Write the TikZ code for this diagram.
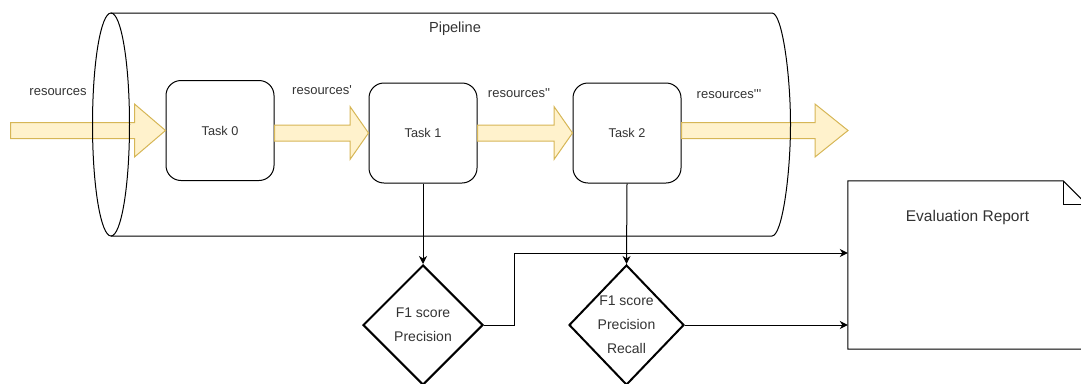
\documentclass[tikz,border=0pt]{standalone}
\usepackage{fontspec}
\setmainfont{Liberation Sans}
\usetikzlibrary{shapes.geometric,arrows.meta,calc}
\definecolor{flowfill}{HTML}{FFF2CC}
\definecolor{flowline}{HTML}{D6B656}
\definecolor{ink}{HTML}{333333}

% fat block arrow from #1 to #2, head length #3, centred on the target's height
\newcommand\flowarrow[3]{%
  \path[flow] let \p1=(#1), \p2=(#2) in
    (\x1,{\y2+8pt}) -- ({\x2-#3},{\y2+8pt}) -- ({\x2-#3},{\y2+26.5pt})
    -- (\x2,\y2) -- ({\x2-#3},{\y2-26.5pt}) -- ({\x2-#3},{\y2-8pt})
    -- (\x1,{\y2-8pt}) -- cycle;}

\begin{document}
\begin{tikzpicture}[x=1pt,y=-1pt,
  task/.style={draw=black, line width=1pt, fill=white, rounded corners=15pt,
    minimum width=108pt, minimum height=100pt, inner sep=0pt, text=ink,
    font=\fontsize{12.7}{15}\selectfont},
  lbl/.style={text=ink, font=\fontsize{13}{15}\selectfont, inner sep=0pt},
  metric/.style={draw=black, line width=2pt, diamond, fill=white,
    minimum height=120pt, inner sep=0pt},
  metrictext/.style={text=ink, align=center, font=\fontsize{14}{24}\selectfont, inner sep=0pt},
  conn/.style={draw=black, line width=1pt, -{Stealth[length=8pt,width=8pt,inset=2.5pt]}},
  flow/.style={draw=flowline, fill=flowfill, line width=1pt},
  outline/.style={draw=black, line width=1pt},
]
\useasboundingbox (0,0) rectangle (1081,383);
\clip (0,0) rectangle (1081,383);

% tasks
\node[task] (t0) at (220,130.5) {Task 0};
\node[task] (t1) at (423,133) {Task 1};
\node[task] (t2) at (627,133) {Task 2};
\coordinate (src) at (10.5,130.5);
\coordinate (sink) at (848,130.5);

% resource flow
\flowarrow{src}{t0.west}{31pt}
\flowarrow{t0.east}{t1.west}{18.5pt}
\flowarrow{t1.east}{t2.west}{18.5pt}
\flowarrow{t2.east}{sink}{33pt}

% pipeline cylinder
\draw[outline] (111,124.5) ellipse [x radius=18.5, y radius=111.5];
\draw[outline] (111,13) -- (772,13)
  .. controls (782.2,13) and (790.5,74.6) .. (790.5,124.5)
  .. controls (790.5,174.4) and (782.2,236) .. (772,236) -- (111,236);
\node[text=ink, font=\fontsize{14.6}{17}\selectfont, inner sep=0pt] (pipe) at (455,29) {Pipeline};

% flow labels
\node[lbl] (r0) at (58,92) {resources};
\node[lbl] (r1) at (322,90) {resources\textquotesingle};
\node[lbl] (r2) at (519,93) {resources\textquotesingle\textquotesingle};
\node[lbl] (r3) at (729,94) {resources\textquotesingle\textquotesingle\textquotesingle};

% metrics
\node[metric, minimum width=120pt,
  label={[metrictext]center:{F1 score\\Precision}}] (d1) at (423,325) {};
\node[metric, minimum width=115pt,
  label={[metrictext]center:{F1 score\\Precision\\Recall}}] (d2) at (626.5,325) {};

% evaluation report (note with folded corner)
\node[minimum width=239pt, minimum height=168pt, inner sep=0pt] (report) at (967.5,265) {};
\draw[outline, fill=white] (report.north west) -- ([xshift=-24pt]report.north east)
  -- ([yshift=-24pt]report.north east) -- (report.south east)
  -- (report.south west) -- cycle;
\draw[outline] ([xshift=-24pt]report.north east) -- ([xshift=-24pt,yshift=-24pt]report.north east)
  -- ([yshift=-24pt]report.north east);
\node[text=ink, font=\fontsize{15.5}{18}\selectfont, inner sep=0pt] (rtitle)
  at ([yshift=-36.7pt]report.north) {Evaluation Report};

% connectors
\draw[conn] (t1.south) -- (d1.north);
\draw[conn] (t2.south) -- (d2.north);
\draw[conn] (d1.east) -- ++(30,0) |- ([yshift=12pt]report.west);
\draw[conn] (d2.east) -- (d2.east -| report.west);
\end{tikzpicture}
\end{document}
